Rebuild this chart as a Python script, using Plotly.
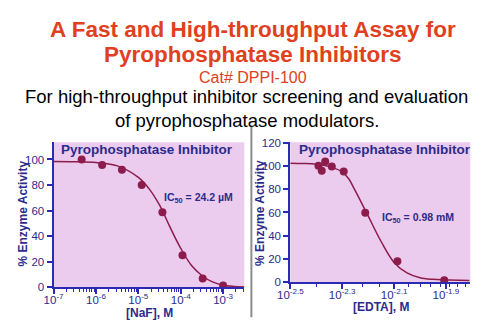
import plotly.graph_objects as go

W, H = 482, 329

# ---- data ----
naf_conc = [4.6e-7, 1.4e-6, 4.1e-6, 1.2e-5, 3.7e-5, 1.1e-4, 3.3e-4, 1.0e-3]
naf_activity = [100, 95.7, 91.9, 80, 58.7, 25, 6.8, 1.3]
naf_fit_conc = [1e-7, 3.2e-7, 1e-6, 3.2e-6, 1e-5, 1.8e-5, 3.2e-5, 5.6e-5, 1e-4,
                1.8e-4, 3.2e-4, 5.6e-4, 1e-3, 1.8e-3, 3.2e-3]
naf_fit_activity = [98.5, 98.3, 97.6, 95, 86, 77, 64, 47, 30.5, 17, 9, 4.2, 1.6, 0.6, 0.2]

edta_conc = [0.00406, 0.00418, 0.00431, 0.00457, 0.00508, 0.00615, 0.00818, 0.0124]
edta_activity = [100.2, 96, 104, 99.6, 95.4, 59.7, 17.9, 1.7]
edta_fit_conc = [0.00316, 0.00355, 0.00398, 0.00447, 0.00501, 0.00531, 0.00562, 0.00631,
                 0.00708, 0.00794, 0.00891, 0.0100, 0.0112, 0.0126, 0.0141, 0.0155]
edta_fit_activity = [102.5, 102.2, 101.5, 99.5, 95, 89, 79, 57, 35, 17, 8, 3.8, 2.4, 1.9, 1.6, 1.4]

naf_ticks = [1e-7, 1e-6, 1e-5, 1e-4, 1e-3]
naf_ticktext = ["10<sup>-7</sup>", "10<sup>-6</sup>", "10<sup>-5</sup>", "10<sup>-4</sup>", "10<sup>-3</sup>"]
edta_ticks = [10 ** -2.5, 10 ** -2.3, 10 ** -2.1, 10 ** -1.9]
edta_ticktext = ["10<sup>-2.5</sup>", "10<sup>-2.3</sup>", "10<sup>-2.1</sup>", "10<sup>-1.9</sup>"]
naf_minor = [k * 10 ** e for e in range(-7, -2) for k in range(2, 10) if k * 10 ** e < 10 ** -2.5]
edta_minor = [k / 1000 for k in range(4, 16)]

# ---- style ----
FONT = "Liberation Sans, Arial, sans-serif"
NAVY = "#2b2b8c"
AXIS = "#2a2ab4"
MAROON = "#8c1c4c"
BG = "#ebcbee"
RED = "#e0401e"

def px(x):
    return x / W

def py(y):
    return 1 - y / H

fig = go.Figure()

fig.add_trace(go.Scatter(x=naf_fit_conc, y=naf_fit_activity, mode="lines",
                         line=dict(color=MAROON, width=1.5, shape="spline"),
                         xaxis="x", yaxis="y", showlegend=False))
fig.add_trace(go.Scatter(x=naf_conc, y=naf_activity, mode="markers",
                         marker=dict(color=MAROON, size=8),
                         xaxis="x", yaxis="y", showlegend=False))
fig.add_trace(go.Scatter(x=edta_fit_conc, y=edta_fit_activity, mode="lines",
                         line=dict(color=MAROON, width=1.5, shape="spline"),
                         xaxis="x2", yaxis="y2", showlegend=False))
fig.add_trace(go.Scatter(x=edta_conc, y=edta_activity, mode="markers",
                         marker=dict(color=MAROON, size=8),
                         xaxis="x2", yaxis="y2", showlegend=False))

xcommon = dict(type="log", showgrid=False, zeroline=False, showline=True,
               linecolor=AXIS, linewidth=2, ticks="outside", ticklen=5, tickwidth=1.5,
               tickcolor=AXIS, tickmode="array", ticklabelstandoff=-4,
               tickfont=dict(family=FONT, size=11.5, color=NAVY))
ycommon = dict(showgrid=False, zeroline=False, showline=True, linecolor=AXIS, linewidth=2,
               ticks="outside", ticklen=5, tickwidth=1.5, tickcolor=AXIS,
               tickfont=dict(family=FONT, size=11.5, color=NAVY), dtick=20)

fig.update_layout(
    width=W, height=H,
    margin=dict(l=0, r=0, t=0, b=0),
    paper_bgcolor="white", plot_bgcolor=BG,
    xaxis=dict(**xcommon, domain=[px(41.7), px(237.7)], range=[-7, -2.5], anchor="y",
               tickvals=naf_ticks, ticktext=naf_ticktext,
               minor=dict(tickvals=naf_minor, ticks="outside", ticklen=3, tickcolor=AXIS, tickwidth=1)),
    yaxis=dict(**ycommon, domain=[py(292), py(142)], range=[0, 113.5], anchor="x"),
    xaxis2=dict(**xcommon, domain=[px(285), px(470)], range=[-2.5, -1.806], anchor="y2",
                tickvals=edta_ticks, ticktext=edta_ticktext,
                minor=dict(tickvals=edta_minor, ticks="outside", ticklen=3, tickcolor=AXIS, tickwidth=1)),
    yaxis2=dict(**ycommon, domain=[py(286.7), py(142)], range=[0, 120.5], anchor="x2"),
)

def ann(text, x, y, size, color, bold=False, angle=0, xanchor="center", xref="paper", yref="paper"):
    fig.add_annotation(text=f"<b>{text}</b>" if bold else text, x=x, y=y, xref=xref, yref=yref,
                       xanchor=xanchor, yanchor="middle", showarrow=False, textangle=angle,
                       font=dict(family=FONT, size=size, color=color))

# titles
ann("A Fast and High-throughput Assay for", px(247), py(25), 22.5, RED, bold=True)
ann("Pyrophosphatase Inhibitors", px(247), py(51), 22.5, RED, bold=True)
ann("Cat# DPPI-100", px(247), py(75.5), 16, RED)
ann("For high-throughput inhibitor screening and evaluation", px(240), py(95), 18.5, "black")
ann("of pyrophosphatase modulators.", px(240), py(119), 18.5, "black")

# panel labels
ann("Pyrophosphatase Inhibitor", px(47), py(150), 13.5, NAVY, bold=True, xanchor="left")
ann("Pyrophosphatase Inhibitor", px(292), py(150), 13.5, NAVY, bold=True, xanchor="left")
ann("IC<sub>50</sub> = 24.2 µM", px(153), py(200), 10.5, NAVY, bold=True, xanchor="left")
ann("IC<sub>50</sub> = 0.98 mM", px(377), py(220), 10.5, NAVY, bold=True, xanchor="left")

# axis titles
ann("% Enzyme Activity", px(10), py(216), 12, NAVY, bold=True, angle=-90)
ann("% Enzyme Activity", px(254), py(215), 12, NAVY, bold=True, angle=-90)
ann("[NaF], M", px(140), py(318.5), 12, NAVY, bold=True)
ann("[EDTA], M", px(378), py(312), 12, NAVY, bold=True)

# separator
fig.add_shape(type="line", xref="paper", yref="paper", x0=px(245), x1=px(245),
              y0=py(125), y1=py(323), line=dict(color="#8c8c8c", width=2))

fig.write_html("out.html")
